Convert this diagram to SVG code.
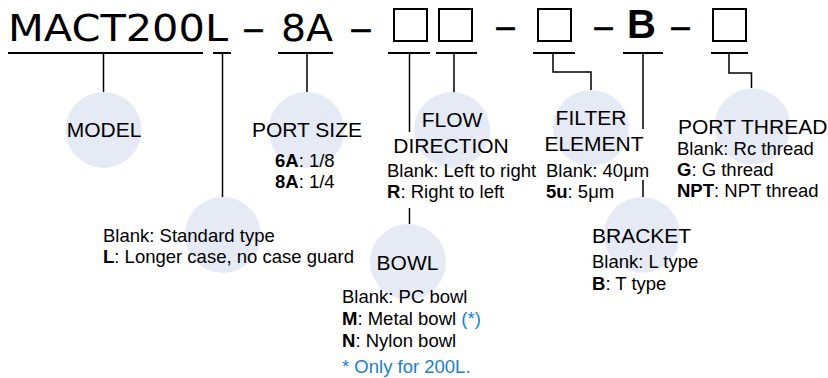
<svg xmlns="http://www.w3.org/2000/svg" width="828" height="378" viewBox="0 0 828 378">
<style>
.hd{font-family:"DejaVu Sans",sans-serif;font-size:37px;fill:#000}
.dash{stroke:#000;stroke-width:0.4}
.ti{font-family:"Liberation Sans",Arial,sans-serif;font-size:21px;fill:#000}
.tx{font-family:"Liberation Sans",Arial,sans-serif;font-size:18.5px;fill:#000}
.b{font-weight:bold}
.blue{fill:#1B7FCC}
.circ{fill:#E6EAF4}
.box{fill:none;stroke:#000;stroke-width:2}
.ul{stroke:#000;stroke-width:2;fill:none}
.ln{stroke:#000;stroke-width:1.5;fill:none}
</style>
<rect width="828" height="378" fill="#fff"/>
<g id="code">
<text class="hd" x="8" y="40.5" textLength="220" lengthAdjust="spacingAndGlyphs">MACT200L</text>
<text class="hd dash" x="242" y="41" textLength="23" lengthAdjust="spacingAndGlyphs">–</text>
<text class="hd" x="281" y="40.5" textLength="52" lengthAdjust="spacingAndGlyphs">8A</text>
<text class="hd dash" x="349" y="41" textLength="24" lengthAdjust="spacingAndGlyphs">–</text>
<rect class="box" x="394" y="9" width="33" height="32"/>
<rect class="box" x="439" y="9" width="33" height="32"/>
<text class="hd dash" x="494" y="39" textLength="23" lengthAdjust="spacingAndGlyphs">–</text>
<rect class="box" x="538" y="9" width="33" height="32"/>
<text class="hd dash" x="592" y="39" textLength="23" lengthAdjust="spacingAndGlyphs">–</text>
<text x="627" y="37.5" style="font-family:'Liberation Sans',Arial,sans-serif;font-size:40px;font-weight:bold">B</text>
<text class="hd dash" x="669" y="39" textLength="23" lengthAdjust="spacingAndGlyphs">–</text>
<rect class="box" x="713" y="9" width="33" height="32"/>
</g>
<g id="connectors">
<path class="ul" d="M8 53H203M213 53H231M278 53H333M388 53H430M436 53H477M533 53H575M623 53H663M711 53H748"/>
<path class="ln" d="M103.5 53V92M222.5 53V197M307 53V92M409.5 53V132M409.5 208V224M454 53V93M553 53V72H591V90M643 53V129M643 180V197M729 53V73H751.5V88"/>
</g>
<g id="model">
<circle class="circ" cx="103.5" cy="130" r="38"/>
<text class="ti" x="104" y="137" text-anchor="middle">MODEL</text>
</g>
<g id="case">
<circle class="circ" cx="223" cy="235" r="38"/>
<text class="tx" x="103" y="242">Blank: Standard type</text>
<text class="tx" x="103" y="263"><tspan class="b">L</tspan>: Longer case, no case guard</text>
</g>
<g id="port-size">
<circle class="circ" cx="306.5" cy="130" r="38"/>
<text class="ti" x="307" y="137" text-anchor="middle">PORT SIZE</text>
<text class="tx" x="275" y="167"><tspan class="b">6A</tspan>: 1/8</text>
<text class="tx" x="275" y="188"><tspan class="b">8A</tspan>: 1/4</text>
</g>
<g id="flow-direction">
<circle class="circ" cx="452" cy="130" r="38"/>
<text class="ti" x="452" y="127" text-anchor="middle">FLOW</text>
<text class="ti" x="451" y="153" text-anchor="middle">DIRECTION</text>
<text class="tx" x="387" y="177">Blank: Left to right</text>
<text class="tx" x="387" y="198"><tspan class="b">R</tspan>: Right to left</text>
</g>
<g id="bowl">
<circle class="circ" cx="408" cy="262" r="38"/>
<text class="ti" x="407.5" y="270" text-anchor="middle">BOWL</text>
<text class="tx" x="342" y="303">Blank: PC bowl</text>
<text class="tx" x="342" y="325"><tspan class="b">M</tspan>: Metal bowl <tspan class="blue">(*)</tspan></text>
<text class="tx" x="342" y="347"><tspan class="b">N</tspan>: Nylon bowl</text>
<text class="tx blue" x="342" y="373">* Only for 200L.</text>
</g>
<g id="filter-element">
<circle class="circ" cx="591" cy="128" r="38"/>
<text class="ti" x="591" y="125" text-anchor="middle">FILTER</text>
<text class="ti" x="594" y="151" text-anchor="middle">ELEMENT</text>
<text class="tx" x="546" y="177">Blank: 40μm</text>
<text class="tx" x="546" y="198"><tspan class="b">5u</tspan>: 5μm</text>
</g>
<g id="bracket">
<circle class="circ" cx="642" cy="235" r="38"/>
<text class="ti" x="592" y="243">BRACKET</text>
<text class="tx" x="592" y="268">Blank: L type</text>
<text class="tx" x="592" y="290"><tspan class="b">B</tspan>: T type</text>
</g>
<g id="port-thread">
<circle class="circ" cx="752.5" cy="126.5" r="38"/>
<text class="ti" x="678" y="134">PORT THREAD</text>
<text class="tx" x="677" y="155">Blank: Rc thread</text>
<text class="tx" x="677" y="176"><tspan class="b">G</tspan>: G thread</text>
<text class="tx" x="677" y="197"><tspan class="b">NPT</tspan>: NPT thread</text>
</g>
</svg>
